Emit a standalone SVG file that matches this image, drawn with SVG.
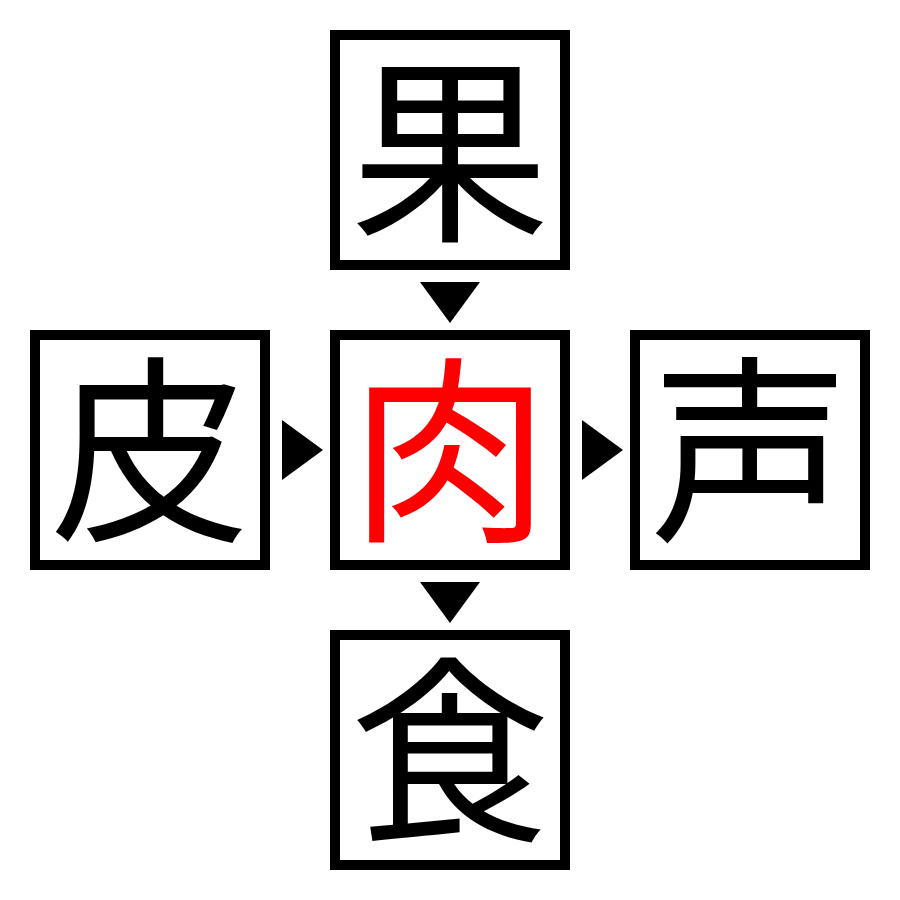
<svg xmlns="http://www.w3.org/2000/svg" width="900" height="900" viewBox="0 0 900 900">
<style>
.box{fill:#fff;stroke:#000;stroke-width:10}
.ch{font-family:"Noto Sans CJK JP","Noto Sans CJK SC",sans-serif;font-size:200px;text-anchor:middle;fill:#000}
.red{fill:#ff0000}
.arr{fill:#000}
</style>
<rect width="900" height="900" fill="#fff"/>
<g id="connectors">
<polygon class="arr" points="420,282 480,282 450,323"/>
<polygon class="arr" points="282,420 282,480 323,450"/>
<polygon class="arr" points="582,420 582,480 623,450"/>
<polygon class="arr" points="420,582 480,582 450,623"/>
</g>
<g id="node-top"><rect class="box" x="335" y="35" width="230" height="230"/><text class="ch" x="450" y="226">果</text></g>
<g id="node-left"><rect class="box" x="35" y="335" width="230" height="230"/><text class="ch" x="150" y="526">皮</text></g>
<g id="node-center"><rect class="box" x="335" y="335" width="230" height="230"/><text class="ch red" x="450" y="526">肉</text></g>
<g id="node-right"><rect class="box" x="635" y="335" width="230" height="230"/><text class="ch" x="750" y="526">声</text></g>
<g id="node-bottom"><rect class="box" x="335" y="635" width="230" height="230"/><text class="ch" x="450" y="826">食</text></g>
</svg>
